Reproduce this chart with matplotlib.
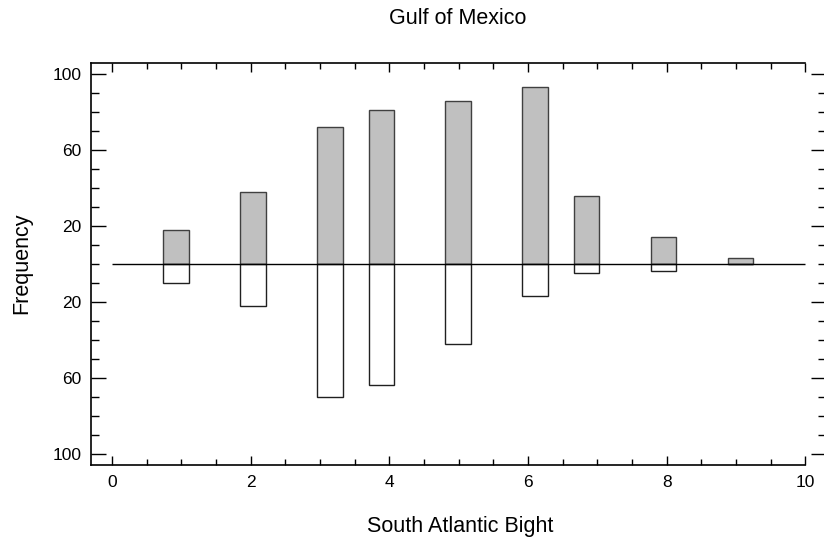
"""Back-to-back frequency histogram: Gulf of Mexico vs South Atlantic Bight."""

import matplotlib

matplotlib.use("Agg")
import matplotlib.pyplot as plt
from matplotlib.ticker import FixedLocator, FuncFormatter, MultipleLocator

plt.rcParams["font.family"] = ["Liberation Sans", "DejaVu Sans"]

# class left edges (all classes share the same width)
class_left = [0.74, 1.85, 2.96, 3.70, 4.81, 5.92, 6.66, 7.77, 8.88]
class_width = 0.37
gulf_counts = [18, 38, 72, 81, 86, 93, 36, 14, 3]
satl_counts = [10, 22, 70, 64, 42, 17, 5, 4, 0]

y_major = [-100, -60, -20, 20, 60, 100]

fig = plt.figure(figsize=(8.24, 5.41), dpi=100)
ax = fig.add_axes([0.1108, 0.1405, 0.8916, 0.7436])

ax.bar(class_left, gulf_counts, width=class_width, align="edge",
       color="#c0c0c0", edgecolor="#404040", linewidth=1.0, zorder=2)
ax.bar(class_left, [-v for v in satl_counts], width=class_width, align="edge",
       color="white", edgecolor="#202020", linewidth=1.0, zorder=2)
ax.hlines(0, 0, 10, color="black", linewidth=1.0, zorder=3)

ax.set_xlim(-0.3, 10.3)
ax.set_ylim(-106, 106)

ax.xaxis.set_major_locator(MultipleLocator(2))
ax.xaxis.set_minor_locator(MultipleLocator(0.5))
ax.yaxis.set_major_locator(FixedLocator(y_major))
ax.yaxis.set_minor_locator(MultipleLocator(10))
ax.yaxis.set_major_formatter(FuncFormatter(lambda v, _: f"{abs(v):.0f}"))

ax.spines["right"].set_visible(False)
ax.spines["top"].set_bounds(-0.3, 10)
ax.spines["bottom"].set_bounds(-0.3, 10)
for side in ("left", "top", "bottom"):
    ax.spines[side].set_linewidth(1.2)

ax.tick_params(axis="x", which="both", direction="in", top=True, bottom=True,
               labelsize=12.5, pad=7, width=1.0)
ax.tick_params(axis="x", which="major", length=6.5)
ax.tick_params(axis="x", which="minor", length=4)
ax.tick_params(axis="y", which="both", direction="in", left=True, right=True,
               labelsize=12.5, pad=7, width=1.0)
ax.tick_params(axis="y", which="major", length=10.5)
ax.tick_params(axis="y", which="minor", length=6)

fig.text(0.555, 0.9556, "Gulf of Mexico", ha="center", va="baseline", fontsize=15.5)
fig.text(0.558, 0.0172, "South Atlantic Bight", ha="center", va="baseline",
         fontsize=15.5)
fig.text(0.0331, 0.5139, "Frequency", ha="center", va="baseline", rotation=90,
         rotation_mode="anchor", fontsize=15.5)

fig.savefig("out.png", dpi=100)
